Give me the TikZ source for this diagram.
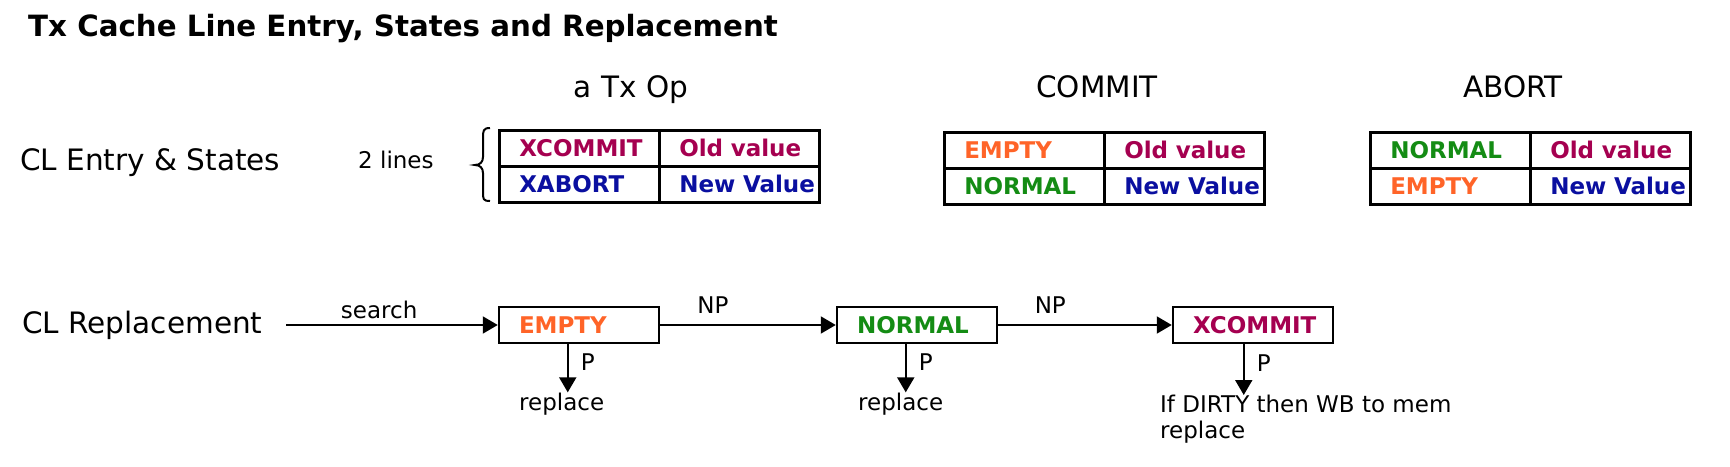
\documentclass[tikz,border=0pt]{standalone}
\usepackage{fontspec}
\setmainfont{DejaVu Sans}
\usetikzlibrary{arrows.meta}
\definecolor{xcrim}{RGB}{165,0,80}
\definecolor{xblue}{RGB}{10,15,160}
\definecolor{xorange}{RGB}{255,100,40}
\definecolor{xgreen}{RGB}{20,140,20}
\begin{document}
\begin{tikzpicture}[x=1pt,y=-1pt,
  bigtxt/.style={font=\fontsize{29.5}{35}\selectfont, inner sep=0pt},
  smalltxt/.style={font=\fontsize{23}{26}\selectfont, inner sep=0pt},
  celltxt/.style={draw, line width=2.5pt, anchor=north west, minimum width=160pt, minimum height=36pt,
    inner xsep=20pt, inner ysep=0pt, text width=120pt, align=left, text height=17pt, text depth=0pt,
    font=\bfseries\fontsize{23}{28}\selectfont},
  statebox/.style={celltxt, anchor=center},
  arr/.style={line width=2pt, -{Triangle[width=17pt,length=15pt]}},
]
\fill[white] (0,0) rectangle (1730,466);
\useasboundingbox (0,0) rectangle (1730,466);

% title
\node[anchor=base west, inner sep=0pt, font=\bfseries\fontsize{29.3}{34}\selectfont] (title) at (28,36) {Tx Cache Line Entry, States and Replacement};

% headings
\node[bigtxt, anchor=base] (h1) at (631,97) {a Tx Op};
\node[bigtxt, anchor=base] (h2) at (1097,97) {COMMIT};
\node[bigtxt, anchor=base] (h3) at (1513,97) {ABORT};

% row labels
\node[bigtxt, anchor=base west] (l1) at (20,170) {CL Entry \& States};
\node[smalltxt, anchor=base west] (l2) at (358,168) {2 lines};
\node[bigtxt, anchor=base west] (l3) at (22,333) {CL Replacement};

% brace
\draw[line width=2pt] (490,128) .. controls (483,128) and (483,131) .. (483,138) -- (483,157)
  .. controls (483,162) and (480,165) .. (475,165)
  .. controls (480,165) and (483,168) .. (483,173) -- (483,192)
  .. controls (483,199) and (483,201) .. (490,201);

% table 1
\node[celltxt, text=xcrim] (t1a) at (498,129) {\mbox{XCOMMIT}};
\node[celltxt, text=xcrim] (t1b) at (658,129) {\mbox{Old value}};
\node[celltxt, text=xblue] (t1c) at (498,165) {\mbox{XABORT}};
\node[celltxt, text=xblue] (t1d) at (658,165) {\mbox{New Value}};

% table 2
\node[celltxt, text=xorange] (t2a) at (943,131) {\mbox{EMPTY}};
\node[celltxt, text=xcrim] (t2b) at (1103,131) {\mbox{Old value}};
\node[celltxt, text=xgreen] (t2c) at (943,167) {\mbox{NORMAL}};
\node[celltxt, text=xblue] (t2d) at (1103,167) {\mbox{New Value}};

% table 3
\node[celltxt, text=xgreen] (t3a) at (1369,131) {\mbox{NORMAL}};
\node[celltxt, text=xcrim] (t3b) at (1529,131) {\mbox{Old value}};
\node[celltxt, text=xorange] (t3c) at (1369,167) {\mbox{EMPTY}};
\node[celltxt, text=xblue] (t3d) at (1529,167) {\mbox{New Value}};

% replacement chain
\node[statebox, text=xorange] (s1) at (579,325) {\mbox{EMPTY}};
\node[statebox, text=xgreen] (s2) at (917,325) {\mbox{NORMAL}};
\node[statebox, text=xcrim] (s3) at (1253,325) {\mbox{XCOMMIT}};
\coordinate (start) at (286,325);

\draw[arr] (start) -- node[smalltxt, above, inner ysep=5pt, pos=0.44] (lsearch) {search} (s1);
\draw[arr] (s1) -- node[smalltxt, above, inner ysep=11pt, pos=0.3] (lnp1) {NP} (s2);
\draw[arr] (s2) -- node[smalltxt, above, inner ysep=11pt, pos=0.3] (lnp2) {NP} (s3);

\node[smalltxt, anchor=base west] (r1) at (519,410) {replace};
\node[smalltxt, anchor=base west] (r2) at (858,410) {replace};
\node[smalltxt, anchor=north west, align=left] (r3) at (1160,395) {If DIRTY then WB to mem\\replace};

\draw[arr] ([xshift=70pt]s1.south west) -- node[smalltxt, anchor=west, inner xsep=12pt, pos=0.37] (p1) {P} ([xshift=70pt]s1.south west |- r1.north);
\draw[arr] ([xshift=70pt]s2.south west) -- node[smalltxt, anchor=west, inner xsep=12pt, pos=0.37] (p2) {P} ([xshift=70pt]s2.south west |- r2.north);
\draw[arr] ([xshift=72pt]s3.south west) -- node[smalltxt, anchor=west, inner xsep=12pt, pos=0.37] (p3) {P} ([xshift=72pt]s3.south west |- r3.north);
\end{tikzpicture}
\end{document}
